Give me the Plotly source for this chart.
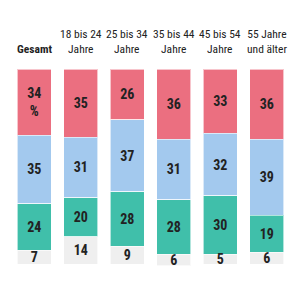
import plotly.graph_objects as go

categories = ["Gesamt", "18 bis 24 Jahre", "25 bis 34 Jahre", "35 bis 44 Jahre", "45 bis 54 Jahre", "55 Jahre und älter"]
header_labels = ["<b>Gesamt</b>", "18 bis 24<br>Jahre", "25 bis 34<br>Jahre", "35 bis 44<br>Jahre", "45 bis 54<br>Jahre", "55 Jahre<br>und älter"]
series_names = ["A", "B", "C", "D"]
pink_vals = [34, 35, 26, 36, 33, 36]
blue_vals = [35, 31, 37, 31, 32, 39]
teal_vals = [24, 20, 28, 28, 30, 19]
gray_vals = [7, 14, 9, 6, 5, 6]

colors = ["#eb6f80", "#a3c9ee", "#40bfaa", "#efefef"]
all_vals = [pink_vals, blue_vals, teal_vals, gray_vals]

FONT = "Roboto Condensed, Liberation Sans Narrow, Roboto, sans-serif"

fig = go.Figure()
for i, (name, vals, col) in enumerate(zip(series_names, all_vals, colors)):
    texts = [str(v) for v in vals]
    if i == 0:
        texts[0] = texts[0] + "<br>%"
    fig.add_trace(go.Bar(
        x=categories, y=vals, name=name,
        marker=dict(color=col, line=dict(color="rgba(255,255,255,0.6)", width=1)),
        text=texts, textposition="inside", insidetextanchor="middle",
        textangle=0, constraintext="none",
        textfont=dict(family=FONT, size=14, color="#222222", weight="bold"),
        hoverinfo="skip",
    ))

for cat, lab in zip(categories, header_labels):
    fig.add_annotation(x=cat, y=0.805, xref="x", yref="paper", text=lab,
                       showarrow=False, yanchor="bottom", xanchor="center",
                       font=dict(family=FONT, size=11.5, color="#222222"))

fig.update_layout(
    width=300, height=300, margin=dict(l=0, r=0, t=0, b=0),
    barmode="stack", bargap=0.27, showlegend=False,
    plot_bgcolor="white", paper_bgcolor="white",
    xaxis=dict(domain=[11/300, 290/300], showticklabels=False, showgrid=False,
               zeroline=False, showline=False),
    yaxis=dict(domain=[1 - 267.9/300, 1 - 69/300], range=[102, 0],
               showticklabels=False, showgrid=False, zeroline=False, showline=False),
)

fig.write_html("out.html")
